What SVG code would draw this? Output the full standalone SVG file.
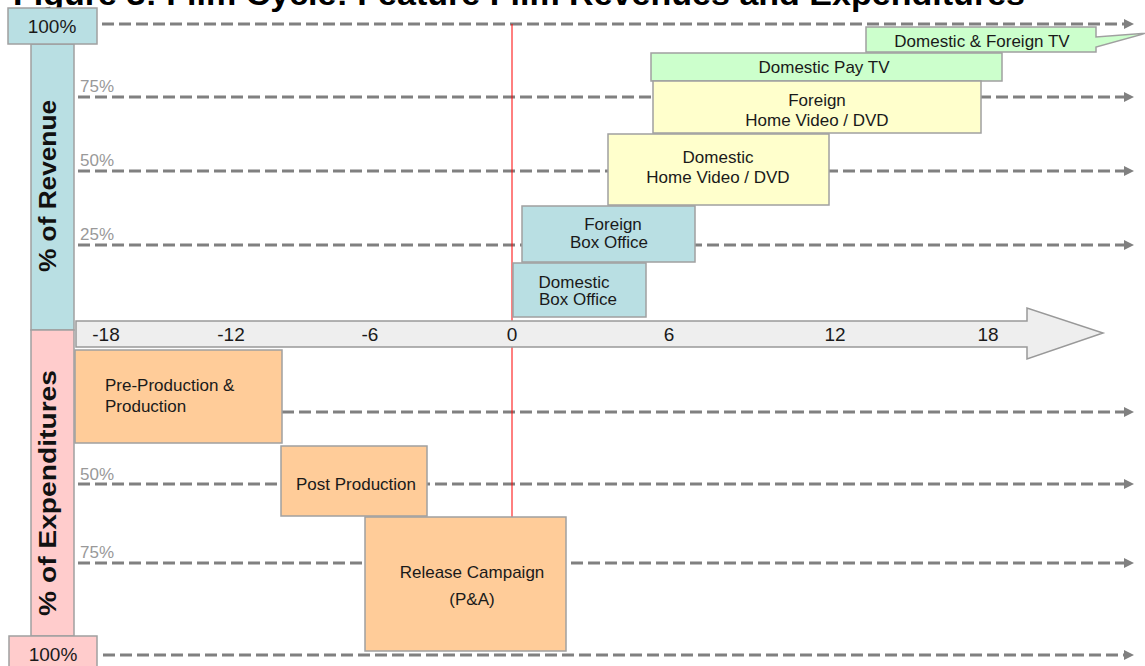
<svg xmlns="http://www.w3.org/2000/svg" width="1145" height="666" viewBox="0 0 1145 666">
<defs>
<style>
.dash{stroke:#808080;stroke-width:3;stroke-dasharray:12 5;fill:none;marker-end:url(#ah)}
.box{stroke:#a0a0a0;stroke-width:1.5}
.t{font-family:"Liberation Sans",Arial,sans-serif;font-size:17px;fill:#1a1a1a;text-anchor:middle}
.ts{font-family:"Liberation Sans",Arial,sans-serif;font-size:17px;fill:#1a1a1a;text-anchor:start}
.pct{font-family:"Liberation Sans",Arial,sans-serif;font-size:17px;fill:#999}
.tick{font-family:"Liberation Sans",Arial,sans-serif;font-size:19px;fill:#1a1a1a;text-anchor:middle}
.ax{font-family:"Liberation Sans",Arial,sans-serif;font-size:23px;font-weight:bold;fill:#111;text-anchor:middle}
.teal{fill:#b9dfe3}.green{fill:#ccffcc}.yellow{fill:#ffffcc}.orange{fill:#ffcc99}.pink{fill:#ffcccc}
</style>
<marker id="ah" viewBox="0 0 10 10" refX="2" refY="5" markerWidth="10" markerHeight="10" markerUnits="userSpaceOnUse" orient="auto">
<path d="M0,0 L10,5 L0,10 z" fill="#808080"/>
</marker>
</defs>
<rect width="1145" height="666" fill="#fff"/>
<text x="13" y="5" font-family="Liberation Sans, Arial, sans-serif" font-size="32" font-weight="bold" fill="#000" textLength="1012" lengthAdjust="spacingAndGlyphs">Figure 3: Film Cycle: Feature Film Revenues and Expenditures</text>

<g id="connectors">
<line class="dash" x1="102" y1="24" x2="1126" y2="24"/>
<line class="dash" x1="78" y1="97" x2="1126" y2="97"/>
<line class="dash" x1="78" y1="171" x2="1126" y2="171"/>
<line class="dash" x1="78" y1="245" x2="1126" y2="245"/>
<line class="dash" x1="78" y1="412" x2="1126" y2="412"/>
<line class="dash" x1="78" y1="484" x2="1126" y2="484"/>
<line class="dash" x1="78" y1="563" x2="1126" y2="563"/>
<line class="dash" x1="103" y1="655" x2="1126" y2="655"/>
<line x1="512" y1="24" x2="512" y2="517" stroke="#ff0000" stroke-width="1"/>
</g>

<g id="pct-labels">
<text class="pct" x="80" y="92">75%</text>
<text class="pct" x="80" y="166">50%</text>
<text class="pct" x="80" y="240">25%</text>
<text class="pct" x="80" y="480">50%</text>
<text class="pct" x="80" y="558">75%</text>
</g>

<g id="revenue-axis">
<rect class="box teal" x="31" y="44" width="43" height="286"/>
<text class="ax" transform="translate(56,186) rotate(-90)" textLength="172" lengthAdjust="spacingAndGlyphs">% of Revenue</text>
</g>
<g id="expenditure-axis">
<rect class="box pink" x="31" y="330" width="43" height="306"/>
<text class="ax" transform="translate(56,493) rotate(-90)" textLength="246" lengthAdjust="spacingAndGlyphs">% of Expenditures</text>
</g>
<g id="top-100">
<rect class="box teal" x="8" y="8" width="89" height="36"/>
<text class="tick" x="52" y="33">100%</text>
</g>
<g id="bottom-100">
<rect class="box pink" x="9" y="636" width="88" height="40"/>
<text class="tick" x="53" y="661">100%</text>
</g>

<g id="timeline">
<polygon points="76,321 1027,321 1027,308 1103,333 1027,359 1027,347 76,347" fill="#eeeeee" stroke="#999" stroke-width="1.5"/>
<text class="tick" x="106" y="341">-18</text>
<text class="tick" x="231" y="341">-12</text>
<text class="tick" x="370" y="341">-6</text>
<text class="tick" x="512" y="341">0</text>
<text class="tick" x="669" y="341">6</text>
<text class="tick" x="835" y="341">12</text>
<text class="tick" x="988" y="341">18</text>
</g>

<g id="dom-foreign-tv">
<polygon class="box green" points="866,27 1096,27 1096,37 1147,33 1096,47 1096,52 866,52"/>
<text class="t" x="982" y="47">Domestic &amp; Foreign TV</text>
</g>
<g id="dom-pay-tv">
<rect class="box green" x="651" y="53" width="351" height="28"/>
<text class="t" x="824" y="73">Domestic Pay TV</text>
</g>
<g id="foreign-video">
<rect class="box yellow" x="653" y="81" width="328" height="52"/>
<text class="t" x="817" y="106">Foreign</text>
<text class="t" x="817" y="126">Home Video / DVD</text>
</g>
<g id="dom-video">
<rect class="box yellow" x="608" y="134" width="221" height="71"/>
<text class="t" x="718" y="163">Domestic</text>
<text class="t" x="718" y="183">Home Video / DVD</text>
</g>
<g id="foreign-box">
<rect class="box teal" x="522" y="206" width="173" height="56"/>
<text class="t" x="613" y="230">Foreign</text>
<text class="t" x="609" y="248">Box Office</text>
</g>
<g id="dom-box">
<rect class="box teal" x="513" y="263" width="133" height="54"/>
<text class="t" x="574" y="288">Domestic</text>
<text class="t" x="578" y="305">Box Office</text>
</g>

<g id="pre-production">
<rect class="box orange" x="75" y="350" width="207" height="93"/>
<text class="ts" x="105" y="391">Pre-Production &amp;</text>
<text class="ts" x="105" y="412">Production</text>
</g>
<g id="post-production">
<rect class="box orange" x="281" y="446" width="146" height="70"/>
<text class="t" x="356" y="490">Post Production</text>
</g>
<g id="release-campaign">
<rect class="box orange" x="365" y="517" width="201" height="134"/>
<text class="t" x="472" y="578">Release Campaign</text>
<text class="t" x="472" y="605">(P&amp;A)</text>
</g>
</svg>
